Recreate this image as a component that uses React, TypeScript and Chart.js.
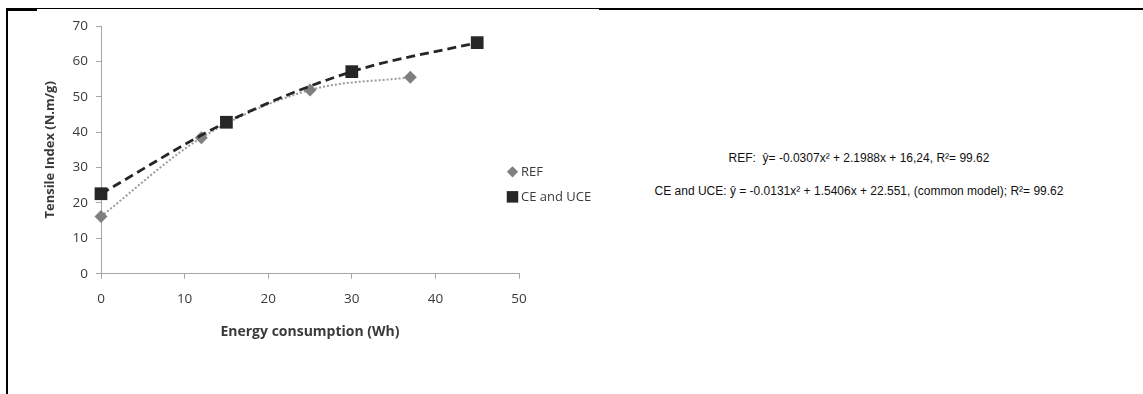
import React, { useEffect, useRef } from 'react';
import { Chart, registerables } from 'chart.js';

Chart.register(...registerables);

// ---- data ----
const seriesNames = ['REF', 'CE and UCE'];
const refX = [0, 12, 25, 37];
const refY = [16.2, 38.4, 51.9, 55.5];
const ceX = [0, 15, 30, 45];
const ceY = [22.6, 42.8, 57.1, 65.3];
const xTicks = [0, 10, 20, 30, 40, 50];
const yTicks = [0, 10, 20, 30, 40, 50, 60, 70];
const xTitle = 'Energy consumption (Wh)';
const yTitle = 'Tensile Index (N.m/g)';
const equations = [
  'REF:  ŷ= -0.0307x² + 2.1988x + 16,24, R²= 99.62',
  'CE and UCE: ŷ = -0.0131x² + 1.5406x + 22.551, (common model); R²= 99.62',
];

const FONT = "'Open Sans', 'DejaVu Sans', sans-serif";
const REF_COLOR = '#7f7f7f';
const REF_LINE = '#9c9c9c';
const CE_COLOR = '#262626';
const AXIS_COLOR = '#a6a6a6';
const TEXT_COLOR = '#3a3a3a';

const legendPlugin = {
  id: 'sideLegend',
  afterDraw(chart: any) {
    const { ctx, chartArea } = chart;
    const cx = chartArea.right - 6.5;
    const mid = (chartArea.top + chartArea.bottom) / 2;
    const rows = [mid + 22, mid + 47];
    ctx.save();
    // REF diamond
    ctx.fillStyle = REF_COLOR;
    ctx.beginPath();
    const r = 5.6;
    ctx.moveTo(cx, rows[0] - r);
    ctx.lineTo(cx + r, rows[0]);
    ctx.lineTo(cx, rows[0] + r);
    ctx.lineTo(cx - r, rows[0]);
    ctx.closePath();
    ctx.fill();
    // CE square
    ctx.fillStyle = CE_COLOR;
    const s = 11.5;
    ctx.fillRect(cx - s / 2, rows[1] - s / 2, s, s);
    // text
    ctx.fillStyle = TEXT_COLOR;
    ctx.font = `13px ${FONT}`;
    ctx.textBaseline = 'middle';
    ctx.textAlign = 'left';
    ctx.fillText(seriesNames[0], cx + 8.5, rows[0]);
    ctx.fillText(seriesNames[1], cx + 8.5, rows[1]);
    ctx.restore();
  },
};

export default function App() {
  const canvasRef = useRef<HTMLCanvasElement | null>(null);

  useEffect(() => {
    if (!canvasRef.current) return;
    const chart = new Chart(canvasRef.current, {
      type: 'scatter',
      data: {
        datasets: [
          {
            label: seriesNames[1],
            data: ceX.map((x, i) => ({ x, y: ceY[i] })),
            showLine: true,
            borderColor: CE_COLOR,
            borderWidth: 2.8,
            borderDash: [9, 5],
            cubicInterpolationMode: 'monotone',
            pointStyle: 'rect',
            pointRadius: 9,
            pointHoverRadius: 9,
            pointBackgroundColor: CE_COLOR,
            pointBorderColor: CE_COLOR,
            pointBorderWidth: 0,
            clip: false,
          } as any,
          {
            label: seriesNames[0],
            data: refX.map((x, i) => ({ x, y: refY[i] })),
            showLine: true,
            borderColor: REF_LINE,
            borderWidth: 2,
            borderDash: [2, 2],
            cubicInterpolationMode: 'monotone',
            pointStyle: 'rectRot',
            pointRadius: 6.5,
            pointHoverRadius: 6.5,
            pointBackgroundColor: REF_COLOR,
            pointBorderColor: REF_COLOR,
            pointBorderWidth: 0,
            clip: false,
          } as any,
        ],
      },
      options: {
        responsive: false,
        animation: false,
        events: [],
        layout: { padding: { left: 34, top: 26, right: 81, bottom: 54 } },
        plugins: {
          legend: { display: false },
          tooltip: { enabled: false },
        },
        scales: {
          x: {
            type: 'linear',
            min: 0,
            max: 50,
            afterBuildTicks: (scale: any) => {
              scale.ticks = xTicks.map((v) => ({ value: v }));
            },
            afterFit: (scale: any) => {
              scale.height = 66.3;
            },
            grid: {
              drawOnChartArea: false,
              drawTicks: true,
              tickLength: 5,
              color: AXIS_COLOR,
            },
            border: { color: AXIS_COLOR, width: 1 },
            ticks: {
              padding: 12,
              color: TEXT_COLOR,
              font: { family: FONT, size: 13.5 },
              maxRotation: 0,
            },
            title: {
              display: true,
              text: xTitle,
              color: TEXT_COLOR,
              font: { family: FONT, size: 14, weight: 'bold' },
              padding: { top: 0, bottom: 0 },
            },
          },
          y: {
            type: 'linear',
            min: 0,
            max: 70,
            afterBuildTicks: (scale: any) => {
              scale.ticks = yTicks.map((v) => ({ value: v }));
            },
            afterFit: (scale: any) => {
              scale.width = 67;
            },
            grid: {
              drawOnChartArea: false,
              drawTicks: true,
              tickLength: 5,
              color: AXIS_COLOR,
            },
            border: { color: AXIS_COLOR, width: 1 },
            ticks: {
              padding: 8,
              color: TEXT_COLOR,
              font: { family: FONT, size: 13.5 },
            },
            title: {
              display: true,
              text: yTitle,
              color: TEXT_COLOR,
              font: { family: FONT, size: 13, weight: 'bold' },
              padding: { top: 8, bottom: 0 },
            },
          },
        },
      } as any,
      plugins: [legendPlugin],
    });
    return () => chart.destroy();
  }, []);

  return (
    <div
      style={{
        position: 'fixed',
        left: 0,
        top: 0,
        width: 1143,
        height: 394,
        background: '#ffffff',
        overflow: 'hidden',
      }}
    >
      <canvas
        ref={canvasRef}
        width={600}
        height={394}
        style={{ position: 'absolute', left: 0, top: 0, width: 600, height: 394 }}
      />
      {/* frame */}
      <div style={{ position: 'absolute', left: 6, top: 8, width: 2, height: 386, background: '#000' }} />
      <div style={{ position: 'absolute', left: 6, top: 8, width: 31, height: 3, background: '#000' }} />
      <div style={{ position: 'absolute', left: 37, top: 8, width: 562, height: 1, background: '#000' }} />
      <div style={{ position: 'absolute', left: 599, top: 8, width: 544, height: 2, background: '#000' }} />
      {/* equations */}
      {equations.map((eq, i) => (
        <div
          key={i}
          style={{
            position: 'absolute',
            left: 859,
            top: i === 0 ? 151 : 184,
            transform: 'translateX(-50%)',
            whiteSpace: 'pre',
            fontFamily: "'Liberation Sans', Arial, sans-serif",
            fontSize: 12,
            lineHeight: '14px',
            color: '#111',
          }}
        >
          {eq}
        </div>
      ))}
    </div>
  );
}
